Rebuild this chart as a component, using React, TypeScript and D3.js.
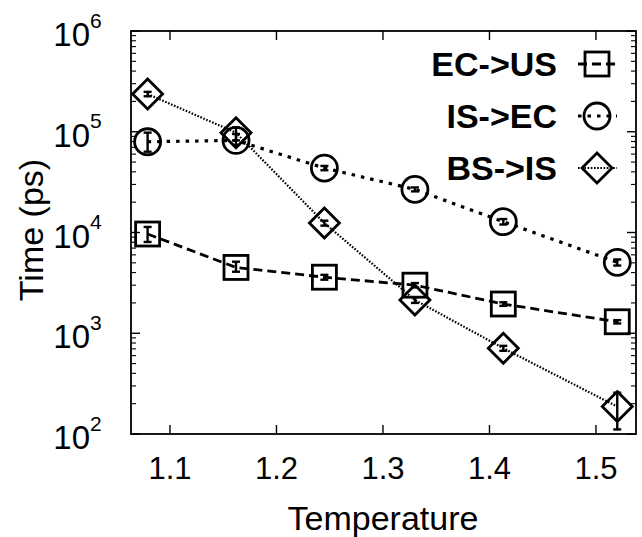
import React from "react";
import * as d3 from "d3";

const temps = [1.079, 1.162, 1.245, 1.33, 1.413, 1.52];

const ecUs = [9660, 4500, 3600, 3000, 1950, 1300];
const ecUsLo = [8050, 4080, 3400, 2850, 1870, 1250];
const ecUsHi = [11350, 5130, 3800, 3150, 2030, 1350];

const isEc = [79600, 82000, 43600, 26800, 12800, 5060];
const isEcLo = [63400, 74000, 41500, 25600, 12000, 4700];
const isEcHi = [98000, 95000, 45800, 28000, 13600, 5400];

const bsIs = [237000, 97800, 12400, 2140, 710, 187];
const bsIsLo = [225000, 82000, 11700, 2000, 670, 111];
const bsIsHi = [249000, 110000, 13100, 2280, 750, 257];

const xTicks = [1.1, 1.2, 1.3, 1.4, 1.5];
const yTicks = [2, 3, 4, 5, 6];
const labels = ["EC->US", "IS->EC", "BS->IS"];

const W = 642;
const H = 537;
const m = { left: 131, right: 6, top: 31, bottom: 103 };

export default function App() {
  const x = d3.scaleLinear().domain([1.0634, 1.5376]).range([m.left, W - m.right]);
  const y = d3.scaleLog().domain([100, 1e6]).range([H - m.bottom, m.top]);

  const series = [
    { name: labels[0], v: ecUs, lo: ecUsLo, hi: ecUsHi, dash: "9,5", sw: 2.8, shape: "square" },
    { name: labels[1], v: isEc, lo: isEcLo, hi: isEcHi, dash: "3.5,6", sw: 3.2, shape: "circle" },
    { name: labels[2], v: bsIs, lo: bsIsLo, hi: bsIsHi, dash: "1.6,1.6", sw: 2.2, shape: "diamond" },
  ];

  const line = d3
    .line<number>()
    .x((_, i) => x(temps[i]))
    .y((d) => y(d));

  const symbol = (shape: string, cx: number, cy: number, key: string) => {
    if (shape === "square")
      return <rect key={key} x={cx - 12} y={cy - 12} width={24} height={24} fill="none" stroke="#000" strokeWidth={2.8} />;
    if (shape === "circle")
      return <circle key={key} cx={cx} cy={cy} r={13} fill="none" stroke="#000" strokeWidth={2.8} />;
    return (
      <path key={key} d={`M${cx},${cy - 15}L${cx + 15},${cy}L${cx},${cy + 15}L${cx - 15},${cy}Z`} fill="none" stroke="#000" strokeWidth={2.8} />
    );
  };

  const minor: number[] = [];
  for (let e = 2; e < 6; e++) for (let k = 2; k <= 9; k++) minor.push(k * Math.pow(10, e));

  const x0 = m.left, x1 = W - m.right, y0 = H - m.bottom, y1 = m.top;
  const font = "Liberation Sans, Arial, sans-serif";

  return (
    <svg width={W} height={H} style={{ position: "absolute", left: 0, top: 0 }} fontFamily={font}>
      <rect width={W} height={H} fill="#fff" />
      {/* ticks */}
      {xTicks.map((t) => (
        <g key={"xt" + t}>
          <line x1={x(t)} x2={x(t)} y1={y0} y2={y0 - 9} stroke="#000" strokeWidth={1.4} />
          <line x1={x(t)} x2={x(t)} y1={y1} y2={y1 + 9} stroke="#000" strokeWidth={1.4} />
          <text x={x(t)} y={y0 + 45} fontSize={31} textAnchor="middle">{d3.format(".1f")(t)}</text>
        </g>
      ))}
      {yTicks.map((e) => (
        <g key={"yt" + e}>
          <line x1={x0} x2={x0 + 9} y1={y(Math.pow(10, e))} y2={y(Math.pow(10, e))} stroke="#000" strokeWidth={1.4} />
          <line x1={x1} x2={x1 - 9} y1={y(Math.pow(10, e))} y2={y(Math.pow(10, e))} stroke="#000" strokeWidth={1.4} />
          <text x={90} y={y(Math.pow(10, e)) + 15} fontSize={33} textAnchor="end">10</text>
          <text x={90} y={y(Math.pow(10, e)) - 3.5} fontSize={21}>{e}</text>
        </g>
      ))}
      {minor.map((v) => (
        <g key={"mn" + v}>
          <line x1={x0} x2={x0 + 5} y1={y(v)} y2={y(v)} stroke="#000" strokeWidth={1.1} />
          <line x1={x1} x2={x1 - 5} y1={y(v)} y2={y(v)} stroke="#000" strokeWidth={1.1} />
        </g>
      ))}
      {/* series */}
      {series.map((s) => (
        <g key={s.name}>
          <path d={line(s.v) || ""} fill="none" stroke="#000" strokeWidth={s.sw} strokeDasharray={s.dash} />
          {s.v.map((v, i) => (
            <g key={i}>
              <line x1={x(temps[i])} x2={x(temps[i])} y1={y(s.lo[i])} y2={y(s.hi[i])} stroke="#000" strokeWidth={2.4} />
              <line x1={x(temps[i]) - 4} x2={x(temps[i]) + 4} y1={y(s.lo[i])} y2={y(s.lo[i])} stroke="#000" strokeWidth={2.4} />
              <line x1={x(temps[i]) - 4} x2={x(temps[i]) + 4} y1={y(s.hi[i])} y2={y(s.hi[i])} stroke="#000" strokeWidth={2.4} />
              {symbol(s.shape, x(temps[i]), y(v), "s" + i)}
            </g>
          ))}
        </g>
      ))}
      {/* legend */}
      {series.map((s, i) => {
        const ly = 64 + i * 52;
        return (
          <g key={"lg" + i}>
            <text x={557} y={ly + 12} fontSize={34} fontWeight="bold" textAnchor="end">{s.name}</text>
            <line x1={578} x2={617} y1={ly} y2={ly} stroke="#000" strokeWidth={s.sw} strokeDasharray={s.dash} />
            {symbol(s.shape, 597, ly, "l" + i)}
          </g>
        );
      })}
      <rect x={x0} y={y1} width={x1 - x0} height={y0 - y1} fill="none" stroke="#000" strokeWidth={1.8} />
      <text x={383} y={530} fontSize={34} textAnchor="middle">Temperature</text>
      <text transform={`translate(43,230) rotate(-90)`} fontSize={34} textAnchor="middle">Time (ps)</text>
    </svg>
  );
}
